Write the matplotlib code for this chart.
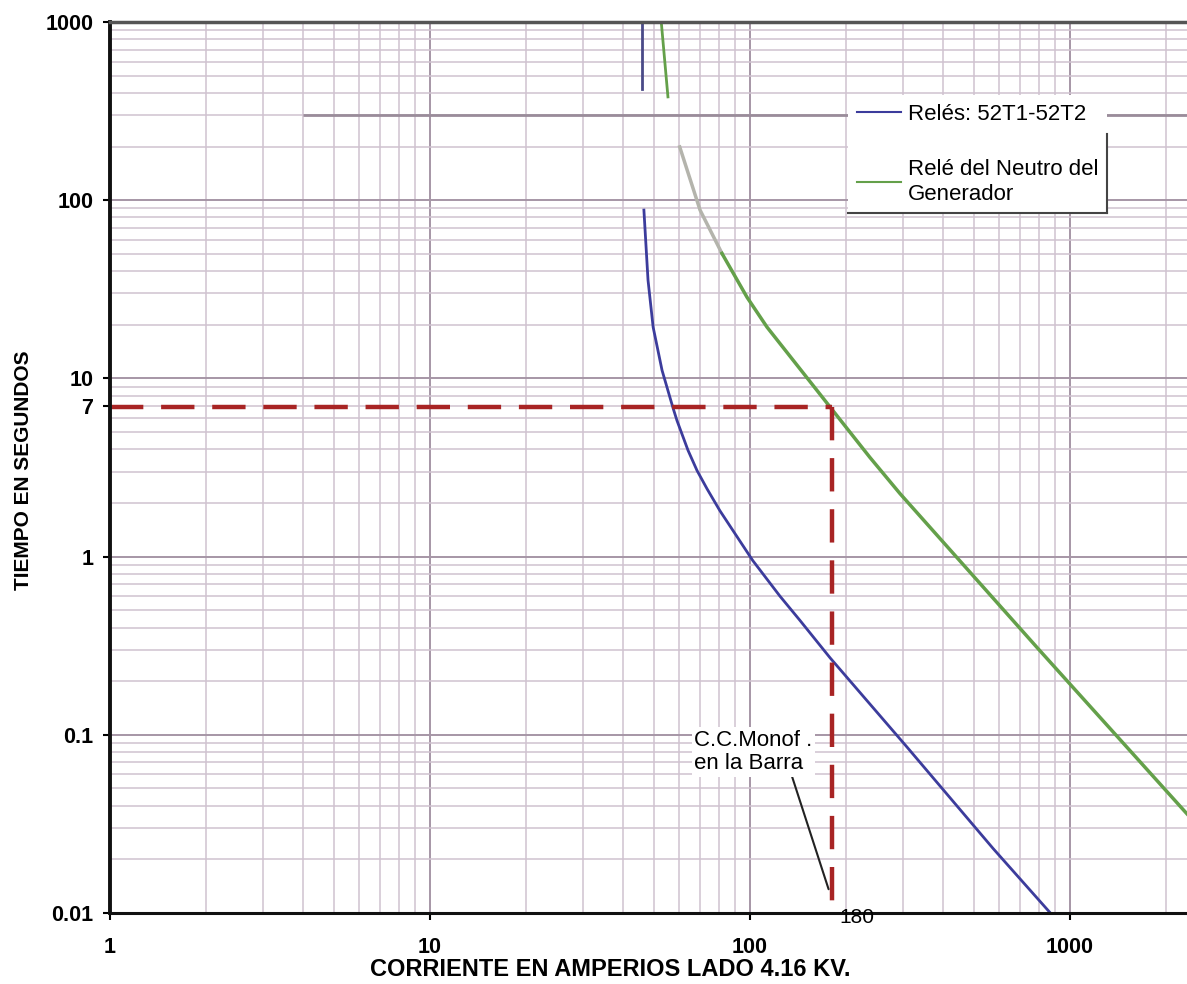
import matplotlib
matplotlib.use('Agg')
from matplotlib import pyplot as plt
from matplotlib.lines import Line2D
from matplotlib.ticker import LogLocator, FixedLocator, NullFormatter
import numpy as np

plt.rcParams['font.family'] = ['Liberation Sans', 'DejaVu Sans']

# curva de los reles 52T1-52T2 (tramo superior y tramo de tiempo inverso)
blue_top_x = [46.0, 46.0]
blue_top_y = [1000, 421]
blue_x = [46.6, 48.0, 49.8, 53.1, 57.4, 59.1, 64.0, 68.3, 73.4, 80.5, 102, 124, 143, 178, 310, 575, 868]
blue_y = [88, 35.6, 19.4, 11.1, 6.87, 5.81, 3.95, 3.04, 2.4, 1.81, 0.95, 0.6, 0.44, 0.27, 0.085, 0.023, 0.01]

# rele del neutro del generador
green_top_x = [52.8, 55.4]
green_top_y = [1000, 380]
green_gray_x = [60.3, 69.8, 81.7]
green_gray_y = [199, 88, 50.3]
green_x = [81.7, 97.9, 113, 178, 237, 294, 795, 2320]
green_y = [50.3, 28.5, 19.4, 6.9, 3.6, 2.26, 0.304, 0.036]

# cortocircuito monofasico en la barra
cc_current = 180
cc_time = 6.9

yticks = [0.01, 0.1, 1, 7, 10, 100, 1000]
ytick_labels = ['0.01', '0.1', '1', '7', '10', '100', '1000']
xticks = [1, 10, 100, 1000]
xtick_labels = ['1', '10', '100', '1000']

fig = plt.figure(figsize=(11.87, 9.84), dpi=100)
ax = fig.add_axes([110/1187, 71/984, 1077/1187, 891/984])
ax.set_xscale('log')
ax.set_yscale('log')
ax.set_xlim(1, 2320)
ax.set_ylim(0.01, 1000)

blue = '#3c3c9c'
green = '#64a04a'
red = '#a82424'

# grid
ax.xaxis.set_major_locator(FixedLocator(xticks))
ax.xaxis.set_minor_locator(LogLocator(base=10, subs=np.arange(2, 10), numticks=50))
ax.yaxis.set_major_locator(FixedLocator(yticks))
ax.yaxis.set_minor_locator(LogLocator(base=10, subs=np.arange(2, 10), numticks=50))
ax.xaxis.set_minor_formatter(NullFormatter())
ax.yaxis.set_minor_formatter(NullFormatter())
ax.set_xticklabels(xtick_labels)
ax.set_yticklabels(ytick_labels)
ax.grid(which='major', color='#a696a6', lw=1.4)
ax.grid(which='minor', color='#d0c2d0', lw=1.1)
ax.set_axisbelow(True)
for t in ax.yaxis.get_major_ticks():
    if abs(t.get_loc() - 7) < 1e-6:
        t.gridline.set_color('#d0c2d0')
        t.gridline.set_linewidth(1.1)

ax.hlines(300, 4, 2320, color='#9a8c9a', lw=2)

# curvas
ax.plot(blue_top_x, blue_top_y, color='#4a4a88', lw=2)
ln_blue, = ax.plot(blue_x, blue_y, color=blue, lw=2, label='Relés: 52T1-52T2')
ax.plot(green_top_x, green_top_y, color=green, lw=2)
ax.plot(green_gray_x, green_gray_y, color='#b4b4ac', lw=2.5)
ln_green, = ax.plot(green_x, green_y, color=green, lw=2.5, label='Relé del Neutro del\nGenerador')

# lineas de corte
ax.plot([1, cc_current], [cc_time, cc_time], color=red, lw=3.2, dashes=(7.5, 4))
ax.plot([cc_current, cc_current], [cc_time, 0.01], color=red, lw=3.2, dashes=(7.5, 4))

ax.annotate('C.C.Monof .\nen la Barra', xy=(176, 0.0136), xytext=(67, 0.06),
            fontsize=16, ha='left', va='bottom', linespacing=1.15,
            bbox=dict(facecolor='white', edgecolor='none', pad=2),
            arrowprops=dict(arrowstyle='-', color='#222222', lw=1.5,
                            shrinkA=0, shrinkB=0, relpos=(0.82, 0)))
ax.text(215, 0.0106, '180', fontsize=15, ha='center', va='top')

# ejes
ax.spines['right'].set_visible(False)
ax.spines['left'].set_linewidth(2.8)
ax.spines['left'].set_color('#111111')
ax.spines['bottom'].set_linewidth(2.2)
ax.spines['bottom'].set_color('#111111')
ax.spines['top'].set_linewidth(2.5)
ax.spines['top'].set_color('#555555')
ax.tick_params(which='major', length=5, width=1.5, labelsize=15.5, pad=7)
ax.tick_params(which='minor', length=0)
ax.tick_params(axis='x', pad=12)
for lab in ax.get_xticklabels() + ax.get_yticklabels():
    lab.set_fontweight('bold')

fig.text(24/1187, 1 - 470/984, 'TIEMPO EN SEGUNDOS', rotation=90, fontsize=15,
         fontweight='bold', ha='center', va='center')
fig.text(610/1187, 1 - 970/984, 'CORRIENTE EN AMPERIOS LADO 4.16 KV.', fontsize=17,
         fontweight='bold', ha='center', va='center')

leg = ax.legend(handles=[ln_blue, ln_green], loc='upper left',
                bbox_to_anchor=(848/1187, 1 - 95/984), bbox_transform=fig.transFigure,
                fontsize=16, handlelength=2.0, handletextpad=0.3, labelspacing=1.55,
                borderpad=0.4, borderaxespad=0, fancybox=False, framealpha=1)
leg.get_frame().set_edgecolor('none')
leg.get_frame().set_facecolor('white')
for h in leg.legend_handles:
    h.set_linewidth(1.5)

fig.canvas.draw()
bb = leg.get_window_extent().transformed(fig.transFigure.inverted())
fig.add_artist(Line2D([bb.x0, bb.x1], [bb.y0, bb.y0], color='#444444', lw=1.5, transform=fig.transFigure))
fig.add_artist(Line2D([bb.x1, bb.x1], [bb.y0, bb.y1 - 0.04], color='#444444', lw=1.5, transform=fig.transFigure))

fig.savefig('out.png', dpi=100)
